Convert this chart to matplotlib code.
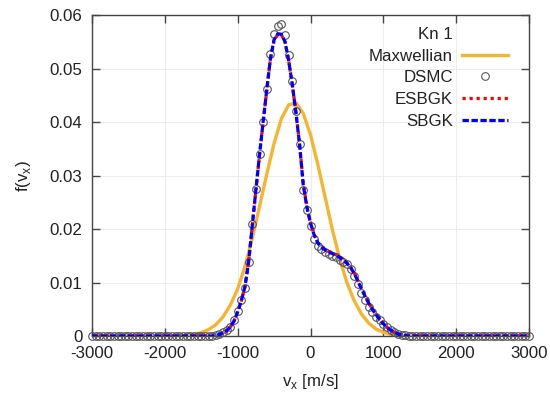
import numpy as np
import matplotlib
matplotlib.use("Agg")
import matplotlib.pyplot as plt

plt.rcParams["font.family"] = ["Liberation Sans", "DejaVu Sans"]
plt.rcParams["axes.unicode_minus"] = False

# velocity grids [m/s]
v_fine = np.arange(-3000, 3001, 50)
v_coarse = np.arange(-3000, 3001, 100)

# Maxwellian (100 m/s grid)
f_maxwell = [
    0, 0, 0, 0, 0, 0, 0, 0, 0, 0, 0, 0, 0,
    0.0001, 0.0003, 0.0006, 0.0012, 0.0021, 0.0036, 0.0058, 0.0088, 0.0130, 0.0182,
    0.0242, 0.0303, 0.0360, 0.0406, 0.0432, 0.0436, 0.0416, 0.0376, 0.0321, 0.0260,
    0.0199, 0.0145, 0.0100, 0.0066, 0.0041, 0.0024, 0.0013, 0.0007, 0.0003, 0.0001,
    0, 0, 0, 0, 0, 0, 0, 0, 0, 0, 0, 0, 0, 0, 0, 0, 0, 0,
]

# DSMC (50 m/s grid)
f_dsmc = [
    0, 0, 0, 0, 0, 0, 0, 0, 0, 0, 0, 0, 0, 0, 0, 0, 0,
    0, 0, 0, 0, 0, 0, 0, 0, 0, 0, 0, 0, 0, 0, 0, 0, 0,
    0.0002, 0.0004, 0.0007, 0.0011, 0.0017, 0.0029, 0.0047, 0.0067, 0.0090, 0.0138,
    0.0210, 0.0275, 0.0340, 0.0400, 0.0462, 0.0528, 0.0565, 0.0580, 0.0583, 0.0562,
    0.0525, 0.0476, 0.0420, 0.0358, 0.0272, 0.0235, 0.0205, 0.0182, 0.0168, 0.0162,
    0.0157, 0.0153, 0.0150, 0.0147, 0.0143, 0.0139, 0.0134, 0.0125, 0.0113, 0.0097,
    0.0081, 0.0067, 0.0055, 0.0045, 0.0036, 0.0029, 0.0023, 0.0017, 0.0012, 0.0008,
    0.0004, 0.0002, 0.0001,
    0, 0, 0, 0, 0, 0, 0, 0, 0, 0, 0, 0, 0, 0, 0, 0, 0,
    0, 0, 0, 0, 0, 0, 0, 0, 0, 0, 0, 0, 0, 0, 0, 0, 0,
]

# ES-BGK (50 m/s grid)
f_esbgk = [
    0, 0, 0, 0, 0, 0, 0, 0, 0, 0, 0, 0, 0, 0, 0, 0, 0,
    0, 0, 0, 0, 0, 0, 0, 0, 0, 0, 0, 0, 0, 0, 0, 0, 0,
    0.0001, 0.0003, 0.0006, 0.0010, 0.0017, 0.0028, 0.0045, 0.0066, 0.0092, 0.0138,
    0.0205, 0.0272, 0.0338, 0.0400, 0.0460, 0.0518, 0.0552, 0.0564, 0.0563, 0.0550,
    0.0515, 0.0470, 0.0418, 0.0360, 0.0285, 0.0242, 0.0212, 0.0190, 0.0175, 0.0167,
    0.0162, 0.0158, 0.0155, 0.0152, 0.0148, 0.0143, 0.0137, 0.0129, 0.0118, 0.0104,
    0.0089, 0.0075, 0.0062, 0.0050, 0.0040, 0.0031, 0.0023, 0.0016, 0.0011, 0.0007,
    0.0004, 0.0002, 0.0001,
    0, 0, 0, 0, 0, 0, 0, 0, 0, 0, 0, 0, 0, 0, 0, 0, 0,
    0, 0, 0, 0, 0, 0, 0, 0, 0, 0, 0, 0, 0, 0, 0, 0, 0,
]

# S-BGK (50 m/s grid)
f_sbgk = [
    0, 0, 0, 0, 0, 0, 0, 0, 0, 0, 0, 0, 0, 0, 0, 0, 0,
    0, 0, 0, 0, 0, 0, 0, 0, 0, 0, 0, 0, 0, 0, 0, 0, 0,
    0.0001, 0.0003, 0.0006, 0.0010, 0.0017, 0.0028, 0.0045, 0.0066, 0.0092, 0.0138,
    0.0206, 0.0273, 0.0339, 0.0401, 0.0461, 0.0519, 0.0554, 0.0565, 0.0564, 0.0550,
    0.0515, 0.0470, 0.0417, 0.0358, 0.0283, 0.0241, 0.0211, 0.0189, 0.0174, 0.0166,
    0.0161, 0.0157, 0.0154, 0.0151, 0.0147, 0.0142, 0.0136, 0.0128, 0.0117, 0.0103,
    0.0088, 0.0074, 0.0061, 0.0050, 0.0040, 0.0031, 0.0023, 0.0016, 0.0011, 0.0007,
    0.0004, 0.0002, 0.0001,
    0, 0, 0, 0, 0, 0, 0, 0, 0, 0, 0, 0, 0, 0, 0, 0, 0,
    0, 0, 0, 0, 0, 0, 0, 0, 0, 0, 0, 0, 0, 0, 0, 0, 0,
]

x_ticks = [-3000, -2000, -1000, 0, 1000, 2000, 3000]
y_ticks = [0, 0.01, 0.02, 0.03, 0.04, 0.05, 0.06]
y_tick_labels = ["0", "0.01", "0.02", "0.03", "0.04", "0.05", "0.06"]

TEXT = "#222222"
FS = 12.2

fig = plt.figure(figsize=(5.5, 3.94), dpi=100)
ax = fig.add_axes([0.1673, 0.1472, 0.7945, 0.8147])

ax.plot([], [], " ", label="Kn 1")
ax.plot(v_coarse, f_maxwell, color="#f5b52e", lw=2.4, label="Maxwellian", zorder=2)
ax.plot(v_fine, f_dsmc, linestyle="none", marker="o", ms=5.5, mfc="none",
        mec="#555555", mew=0.8, label="DSMC", zorder=3, clip_on=False)
ax.plot(v_fine, f_esbgk, color="#ff0000", lw=2.3, dashes=(1.0, 1.2),
        label="ESBGK", zorder=4)
ax.plot(v_fine, f_sbgk, color="#0000ff", lw=2.3, dashes=(2.0, 0.8),
        label="SBGK", zorder=5)

ax.set_xlim(-3000, 3000)
ax.set_ylim(0, 0.06)
ax.set_xticks(x_ticks)
ax.set_yticks(y_ticks)
ax.set_yticklabels(y_tick_labels)
ax.tick_params(direction="in", length=6, width=1, top=True, right=True,
               labelsize=FS, colors="#444444", labelcolor=TEXT, pad=7)
for s in ax.spines.values():
    s.set_color("#444444")
    s.set_linewidth(1)
ax.grid(True, color="#ececec", lw=0.7)
ax.set_axisbelow(True)

ax.set_xlabel("v$_\\mathregular{x}$ [m/s]", fontsize=FS, color=TEXT, labelpad=8)
ax.set_ylabel("f(v$_\\mathregular{x}$)", fontsize=FS, color=TEXT, labelpad=12)

ax.legend(loc="upper right", bbox_to_anchor=(0.952, 0.962), frameon=False,
          markerfirst=False, fontsize=FS, handlelength=2.7, handletextpad=0.55,
          labelspacing=0.39, borderpad=0, borderaxespad=0, labelcolor=TEXT)

fig.savefig("out.png", dpi=100)
